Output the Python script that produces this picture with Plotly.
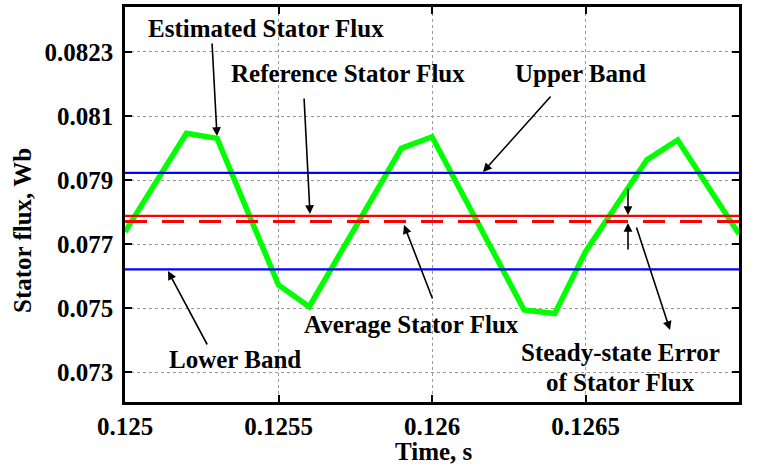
import plotly.graph_objects as go

# ---- data ----
time_s = [0.125, 0.1252, 0.1253, 0.1255, 0.1256, 0.1259, 0.1260, 0.1263, 0.1264, 0.1265, 0.1267, 0.1268, 0.127]
est_flux = [0.07738, 0.08046, 0.08030, 0.07572, 0.07504, 0.07999, 0.08035, 0.07494, 0.07483, 0.07676, 0.07963, 0.08025, 0.07731]
upper_band = 0.07922
lower_band = 0.07621
ref_flux = 0.07788
avg_flux = 0.07770

x_ticks = [0.125, 0.1255, 0.126, 0.1265, 0.127]
x_tick_text = ["0.125", "0.1255", "0.126", "0.1265", "0.127\u00a0\u00a0\u00a0"]
y_ticks = [0.073, 0.075, 0.077, 0.079, 0.081, 0.083]
y_tick_text = ["0.073", "0.075", "0.077", "0.079", "0.081", "0.0823"]

X_RANGE = [0.125, 0.127]
Y_RANGE = [0.072063, 0.084406]

# plot-area geometry in pixels
L, R, T, B = 125, 739, 7, 402
W, H = 759, 470

def pxx(px):
    return (px - L) / (R - L)

def pxy(py):
    return (B - py) / (B - T)

FONT = "Liberation Serif"
FS = 25

fig = go.Figure()
fig.add_trace(go.Scatter(x=time_s, y=est_flux, mode="lines",
                         line=dict(color="#00ff00", width=5.5), showlegend=False))
for val, col, dash, w in [(upper_band, "#0000ff", "solid", 2.2),
                          (lower_band, "#0000ff", "solid", 2.2),
                          (ref_flux, "#ff0000", "solid", 2.2),
                          (avg_flux, "#ff0000", "22px,15px", 3)]:
    fig.add_trace(go.Scatter(x=X_RANGE, y=[val, val], mode="lines",
                             line=dict(color=col, width=w, dash=dash), showlegend=False))

annotations = []

def text_ann(txt, cx, cy, angle=0):
    annotations.append(dict(text=txt, xref="paper", yref="paper", x=pxx(cx), y=pxy(cy),
                            xanchor="center", yanchor="middle", showarrow=False,
                            textangle=angle,
                            font=dict(family=FONT, size=FS, color="black", weight="bold")))

def arrow(tail, head):
    annotations.append(dict(text="", xref="paper", yref="paper",
                            x=pxx(head[0]), y=pxy(head[1]),
                            ax=tail[0] - head[0], ay=tail[1] - head[1],
                            showarrow=True, arrowhead=2, arrowsize=1.1, arrowwidth=1.6,
                            arrowcolor="black", standoff=0, startstandoff=0))

text_ann("Estimated Stator Flux", 266, 29)
text_ann("Reference Stator Flux", 348, 73)
text_ann("Upper Band", 580, 73)
text_ann("Lower Band", 235, 359)
text_ann("Average Stator Flux", 411, 324)
text_ann("Steady-state Error", 620, 352)
text_ann("of Stator Flux", 620, 382)
text_ann("Stator flux, Wb", 22, 231, angle=-90)
text_ann("Time, s", 434, 451)

arrow((212, 42), (217, 136))
arrow((304, 97), (310, 214))
arrow((552, 95), (483, 172))
arrow((208, 346), (168, 271))
arrow((433, 300), (404, 225))
arrow((636, 226), (670, 330))
arrow((628, 187), (628, 215))
arrow((628, 251), (628, 223))

axis_common = dict(showline=True, linecolor="black", linewidth=2.5, mirror="ticks",
                   ticks="inside", ticklen=7, tickwidth=2, tickcolor="black",
                   showgrid=True, gridcolor="#9a9a9a", gridwidth=1, griddash="dot",
                   zeroline=False,
                   tickfont=dict(family=FONT, size=FS, color="black", weight="bold"))

fig.update_xaxes(range=X_RANGE, tickvals=x_ticks, ticktext=x_tick_text,
                 ticklabelstandoff=0, **axis_common)
fig.update_yaxes(range=Y_RANGE, tickvals=y_ticks, ticktext=y_tick_text,
                 ticklabelstandoff=4, **axis_common)

fig.update_layout(width=W, height=H, margin=dict(l=L, r=W - R, t=T, b=H - B, autoexpand=False),
                  plot_bgcolor="white", paper_bgcolor="white",
                  annotations=annotations, showlegend=False,
                  font=dict(family=FONT, size=FS, color="black"))

fig.write_html("out.html", config={"displayModeBar": False},
               post_script="document.body.style.margin='0px';")
